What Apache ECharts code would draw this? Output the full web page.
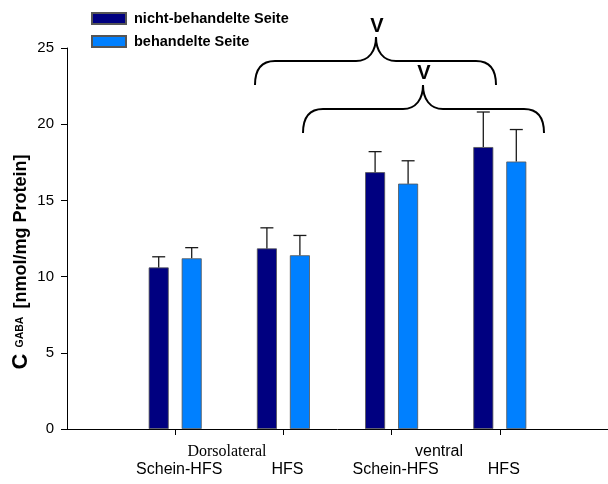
<!DOCTYPE html>
<html>
<head>
<meta charset="utf-8">
<script src="https://cdn.jsdelivr.net/npm/echarts@6/dist/echarts.min.js"></script>
<style>
  html, body { margin: 0; padding: 0; background: #fff; }
  #main { width: 608px; height: 484px; }
</style>
</head>
<body>
<div id="main"></div>
<script>
// GABA concentration per stimulation group and hemisphere side
const categories = ['Schein-HFS', 'HFS', 'Schein-HFS', 'HFS'];
const regions = ['Dorsolateral', 'ventral'];
const seriesNames = ['nicht-behandelte Seite', 'behandelte Seite'];
const untreatedMean = [10.6, 11.85, 16.85, 18.5];
const untreatedSD = [0.7, 1.35, 1.35, 2.3];
const treatedMean = [11.2, 11.4, 16.1, 17.55];
const treatedSD = [0.7, 1.3, 1.5, 2.1];
const yTicks = [0, 5, 10, 15, 20, 25];

const SANS = 'Liberation Sans, Arial, sans-serif';
const SERIF = 'Liberation Serif, Times New Roman, serif';
const BAR_W = 20;
const HALF_STEP = 16.5;   // distance from group centre to each bar centre

// the category axis has an empty slot on each side so the groups sit one band in from the y axis
const axisData = [''].concat(categories, ['']);
const pad = arr => [null].concat(arr, [null]);
const shown = i => i >= 1 && i <= categories.length;

function errorData(mean, sd) {
  return mean.map((m, i) => [i + 1, m, sd[i]]);
}

function errorRenderer(dx) {
  return function (params, api) {
    const x = api.value(0), m = api.value(1), e = api.value(2);
    const base = api.coord([x, m]);
    const top = api.coord([x, m + e]);
    const cx = base[0] + dx;
    const stroke = { stroke: '#1a1a1a', lineWidth: 1.3 };
    return {
      type: 'group',
      children: [
        { type: 'line', shape: { x1: cx, y1: base[1], x2: cx, y2: top[1] }, style: stroke },
        { type: 'line', shape: { x1: cx - 6.5, y1: top[1], x2: cx + 6.5, y2: top[1] }, style: stroke }
      ]
    };
  };
}

// curly brace opening downward with its tip pointing up, built from curves and lines
function brace(x0, x1, yh, yEnd, xc, yTip) {
  const r = 20;
  const st = { fill: 'none', stroke: '#000', lineWidth: 2 };
  const curve = (a, b, c1, c2) => ({
    type: 'bezierCurve',
    shape: { x1: a[0], y1: a[1], x2: b[0], y2: b[1], cpx1: c1[0], cpy1: c1[1], cpx2: c2[0], cpy2: c2[1] },
    style: st
  });
  const line = (a, b) => ({ type: 'line', shape: { x1: a[0], y1: a[1], x2: b[0], y2: b[1] }, style: st });
  return [
    curve([x0, yEnd], [x0 + r, yh], [x0, yh + 8], [x0 + 7, yh]),
    line([x0 + r, yh], [xc - 20, yh]),
    curve([xc - 20, yh], [xc, yTip], [xc - 7, yh], [xc, yh - 10]),
    curve([xc, yTip], [xc + 20, yh], [xc, yh - 10], [xc + 7, yh]),
    line([xc + 20, yh], [x1 - r, yh]),
    curve([x1 - r, yh], [x1, yEnd], [x1 - 7, yh], [x1, yh + 8])
  ];
}

const chart = echarts.init(document.getElementById('main'), null, { renderer: 'canvas' });

const option = {
  animation: false,
  backgroundColor: '#ffffff',
  grid: { left: 67, top: 48, width: 545, height: 381 },
  legend: {
    data: seriesNames,
    orient: 'vertical',
    left: 86,
    top: 6,
    icon: 'rect',
    itemWidth: 34,
    itemHeight: 11,
    itemGap: 8,
    textStyle: { color: '#000', fontFamily: SANS, fontWeight: 'bold', fontSize: 14.5, padding: [0, 0, 0, 3] }
  },
  xAxis: {
    type: 'category',
    data: axisData,
    boundaryGap: false,
    axisLine: { lineStyle: { color: '#000', width: 1 } },
    axisTick: { show: true, interval: shown, length: 6, lineStyle: { color: '#000' } },
    axisLabel: {
      interval: shown,
      margin: 33,
      color: '#000',
      fontFamily: SANS,
      fontSize: 16,
      padding: [0, 0, 0, 8]
    },
    splitLine: { show: false }
  },
  yAxis: {
    type: 'value',
    min: yTicks[0],
    max: yTicks[yTicks.length - 1],
    interval: 5,
    axisLine: { show: true, lineStyle: { color: '#000', width: 1 } },
    axisTick: { show: true, length: 6, lineStyle: { color: '#000' } },
    axisLabel: { margin: 13, color: '#000', fontFamily: SANS, fontSize: 15 },
    splitLine: { show: false }
  },
  series: [
    {
      name: seriesNames[0],
      type: 'bar',
      data: pad(untreatedMean),
      barWidth: BAR_W,
      barGap: '65%',
      itemStyle: { color: '#000080', borderColor: '#555', borderWidth: 0.8 }
    },
    {
      name: seriesNames[1],
      type: 'bar',
      data: pad(treatedMean),
      barWidth: BAR_W,
      barGap: '65%',
      itemStyle: { color: '#0080ff', borderColor: '#555', borderWidth: 0.8 }
    },
    {
      type: 'custom',
      data: errorData(untreatedMean, untreatedSD),
      renderItem: errorRenderer(-HALF_STEP),
      z: 5
    },
    {
      type: 'custom',
      data: errorData(treatedMean, treatedSD),
      renderItem: errorRenderer(HALF_STEP),
      z: 5
    }
  ],
  graphic: [
    {
      type: 'text',
      x: 21, y: 262,
      rotation: Math.PI / 2,
      style: {
        text: '{c|C} {s|GABA} {m|[nmol/mg Protein]}',
        align: 'center',
        verticalAlign: 'middle',
        fontFamily: SANS,
        fontWeight: 'bold',
        fontSize: 18,
        fill: '#000',
        rich: {
          c: { fontFamily: SANS, fontWeight: 'bold', fontSize: 22, fill: '#000', verticalAlign: 'middle' },
          s: { fontFamily: SANS, fontWeight: 'bold', fontSize: 10.5, fill: '#000', verticalAlign: 'middle', padding: [0, 3, 1, 1] },
          m: { fontFamily: SANS, fontWeight: 'bold', fontSize: 18, fill: '#000', verticalAlign: 'middle' }
        }
      }
    },
    {
      type: 'text', x: 227, y: 452,
      style: { text: regions[0], align: 'center', verticalAlign: 'middle', fontFamily: SERIF, fontSize: 16, fill: '#000' }
    },
    {
      type: 'text', x: 439, y: 452,
      style: { text: regions[1], align: 'center', verticalAlign: 'middle', fontFamily: SANS, fontSize: 16, fill: '#000' }
    },
    ...brace(255, 496, 61, 85, 376, 37),
    ...brace(303, 544, 109, 133, 423, 85),
    {
      type: 'text', x: 377, y: 26,
      style: { text: 'V', align: 'center', verticalAlign: 'middle', fontFamily: SANS, fontWeight: 'bold', fontSize: 20, fill: '#000' }
    },
    {
      type: 'text', x: 424, y: 73,
      style: { text: 'V', align: 'center', verticalAlign: 'middle', fontFamily: SANS, fontWeight: 'bold', fontSize: 20, fill: '#000' }
    }
  ]
};

chart.setOption(option);
</script>
</body>
</html>
